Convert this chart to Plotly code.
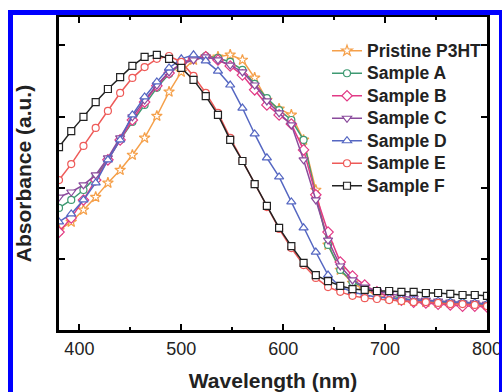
import numpy as np
import plotly.graph_objects as go

# Wavelength grid (nm)
wavelength = list(range(380, 801, 12))

# Normalized absorbance values (a.u.)
px_pristine = [230,222,210,197,183,170,155,138,116,92,72,60,57,57,55,60,78,100,109,115,140,190,245,270,283,290,295,298,300,301,302,303,303,304,304,305]
px_a = [208,200,190,177,160,140,122,105,88,74,64,58,56,58,62,70,84,98,110,120,140,195,245,270,282,288,293,296,298,300,301,302,303,303,304,305]
px_b = [232,218,200,180,160,140,120,102,86,73,63,58,57,60,66,75,90,105,115,124,150,195,232,262,276,285,292,297,300,302,303,304,305,306,306,307]
px_c = [197,192,185,175,158,138,117,100,85,72,64,60,57,60,65,72,85,101,113,125,160,200,240,266,280,287,291,294,296,298,300,301,302,303,303,304]
px_d = [222,214,200,183,160,140,115,97,82,68,59,55,61,71,85,108,134,158,177,202,228,252,275,287,292,295,297,298,299,300,301,301,302,302,303,304]
px_e = [180,164,146,128,111,93,78,67,59,56,62,76,93,113,138,161,184,207,229,248,265,278,287,292,296,298,299,300,301,302,302,303,304,304,305,306]
px_f = [147,131,117,102,89,77,66,57,55,59,68,80,96,115,140,161,184,206,228,246,263,275,281,286,289,290,291,291,292,292,293,293,294,295,295,296]

def to_abs(vals):
    return [round((330 - v) / 284.5, 3) for v in vals]

pristine = to_abs(px_pristine)
sample_a = to_abs(px_a)
sample_b = to_abs(px_b)
sample_c = to_abs(px_c)
sample_d = to_abs(px_d)
sample_e = to_abs(px_e)
sample_f = to_abs(px_f)

names = ["Pristine P3HT", "Sample A", "Sample B", "Sample C", "Sample D", "Sample E", "Sample F"]
series = [pristine, sample_a, sample_b, sample_c, sample_d, sample_e, sample_f]
colors = ["#F5A04A", "#3E9A72", "#E23A86", "#8A4A9C", "#5567C2", "#EE5A58", "#222222"]
symbols = ["star", "circle", "diamond", "triangle-down", "triangle-up", "circle", "square"]
sizes = [8, 7, 8, 8, 8, 7, 7]

fig = go.Figure()
for n, s, c, sym, sz in zip(names, series, colors, symbols, sizes):
    fig.add_trace(go.Scatter(
        x=wavelength, y=s,
        name='<span style="font-size:17.5px"><b>' + n + '</b></span>',
        mode="lines+markers",
        line=dict(color=c, width=1.5),
        marker=dict(symbol=sym, size=sz, color="white", line=dict(color=c, width=1.2)),
    ))

W, H = 502, 392
L, R, T, B = 59, 487, 17, 330

def xp(px):
    return (px - L) / (R - L)

def yp(py):
    return (B - py) / (B - T)

# blue border
fig.add_shape(type="line", xref="paper", yref="paper", x0=xp(10.5), x1=xp(10.5), y0=yp(10), y1=yp(400),
              line=dict(color="#0000FF", width=5), layer="above")
fig.add_shape(type="line", xref="paper", yref="paper", x0=xp(8), x1=xp(504), y0=yp(12.5), y1=yp(12.5),
              line=dict(color="#0000FF", width=5), layer="above")
fig.add_shape(type="line", xref="paper", yref="paper", x0=xp(501), x1=xp(501), y0=yp(10), y1=yp(400),
              line=dict(color="#0000FF", width=4), layer="above")

fig.update_layout(
    width=W, height=H,
    margin=dict(l=L, r=W - R, t=T, b=H - B, autoexpand=False),
    paper_bgcolor="white", plot_bgcolor="white",
    font=dict(family="Liberation Sans, Arial, sans-serif", color="#222222"),
    showlegend=True,
    legend=dict(x=xp(327), y=yp(34.5), xanchor="left", yanchor="top",
                bgcolor="rgba(0,0,0,0)", font=dict(size=15, family="Liberation Sans, Arial", color="#222222"),
                tracegroupgap=0),
    xaxis=dict(
        range=[380, 800], tickvals=[400, 500, 600, 700, 800],
        ticks="inside", ticklen=6, tickwidth=2, tickcolor="black",
        showline=True, linewidth=3, linecolor="black", mirror="ticks",
        showgrid=False, zeroline=False, automargin=False, ticklabeloverflow="allow",
        minor=dict(dtick=50, tick0=400, ticks="inside", ticklen=3, tickwidth=2, tickcolor="black", showgrid=False),
        tickfont=dict(size=18, family="Liberation Sans, Arial", color="#222222"),
        tickprefix="<b>", ticksuffix="</b>",
        title=dict(text="<b>Wavelength (nm)</b>", font=dict(size=21, color="#222222"), standoff=17),
    ),
    yaxis=dict(
        range=[0, 1.1], tickvals=[0.25, 0.5, 0.75, 1.0], showticklabels=False,
        ticks="inside", ticklen=6, tickwidth=2, tickcolor="black",
        showline=True, linewidth=3, linecolor="black", mirror="all",
        showgrid=False, zeroline=False, automargin=False,
        title=dict(text="<b>Absorbance (a.u.)</b>", font=dict(size=21, color="#222222"), standoff=19),
    ),
)

fig.write_html("out.html")
